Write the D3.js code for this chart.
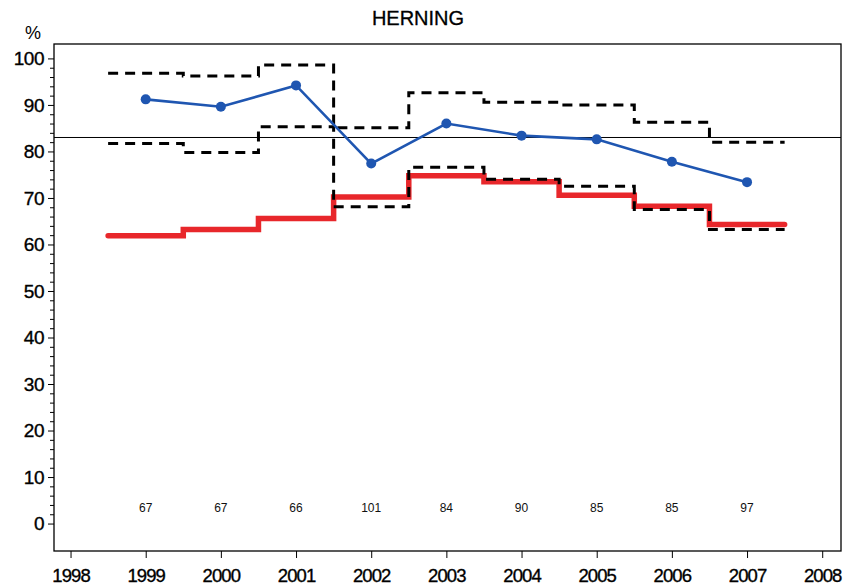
<!DOCTYPE html>
<html>
<head>
<meta charset="utf-8">
<script src="https://cdn.jsdelivr.net/npm/d3@7"></script>
<style>
  html, body { margin: 0; padding: 0; background: #fff; }
  svg { display: block; font-family: "Liberation Sans", Arial, Helvetica, sans-serif; }
</style>
</head>
<body>
<svg id="chart" width="851" height="588"></svg>
<script>
// Yearly indicator results, HERNING
const years = [1999, 2000, 2001, 2002, 2003, 2004, 2005, 2006, 2007];
const observed = [91.2, 89.6, 94.2, 77.4, 86.0, 83.4, 82.6, 77.8, 73.4];
const upperLimit = [96.8, 96.2, 98.6, 85.1, 92.6, 90.6, 90.0, 86.3, 82.0];
const lowerLimit = [81.7, 79.8, 85.3, 68.1, 76.6, 74.0, 72.5, 67.5, 63.2];
const reference = [61.9, 63.2, 65.6, 70.2, 74.8, 73.5, 70.6, 68.2, 64.3];
const counts = [67, 67, 66, 101, 84, 90, 85, 85, 97];
const standard = 83;
const xTicks = [1998, 1999, 2000, 2001, 2002, 2003, 2004, 2005, 2006, 2007, 2008];
const yTicks = [0, 10, 20, 30, 40, 50, 60, 70, 80, 90, 100];

const frame = { left: 54, top: 44, right: 841, bottom: 551 };

const svg = d3.select("#chart");

const x = d3.scaleLinear().domain([1997.78, 2008.25]).range([frame.left, frame.right]);
const y = d3.scaleLinear().domain([-5.9, 103.1]).range([frame.bottom, frame.top]);

// Title and unit label
svg.append("text")
  .attr("x", 418).attr("y", 25)
  .attr("text-anchor", "middle")
  .attr("font-size", 20)
  .attr("stroke", "#000").attr("stroke-width", 0.3)
  .text("HERNING");

svg.append("text")
  .attr("x", 33).attr("y", 39)
  .attr("text-anchor", "middle")
  .attr("font-size", 18)
  .text("%");

// Y axis: minor ticks every 2, labelled major ticks every 10
const minor = d3.range(0, 101, 2).filter(v => v % 10 !== 0);
svg.append("g")
  .attr("transform", `translate(${frame.left},0)`)
  .call(d3.axisLeft(y).tickValues(minor).tickSize(4).tickFormat(""))
  .call(g => g.select(".domain").remove());

svg.append("g")
  .attr("transform", `translate(${frame.left},0)`)
  .call(d3.axisLeft(y).tickValues(yTicks).tickSize(6).tickPadding(4).tickFormat(d3.format("d")))
  .call(g => g.select(".domain").remove())
  .call(g => g.selectAll("text")
    .attr("font-size", 19)
    .attr("font-family", "Liberation Sans, Arial, sans-serif")
    .attr("fill", "#000")
    .attr("stroke", "#000").attr("stroke-width", 0.35)
    .attr("letter-spacing", -0.5));

// X axis
svg.append("g")
  .attr("transform", `translate(0,${frame.bottom})`)
  .call(d3.axisBottom(x).tickValues(xTicks).tickSize(7).tickPadding(11).tickFormat(d3.format("d")))
  .call(g => g.select(".domain").remove())
  .call(g => g.selectAll("text")
    .attr("font-size", 18.5)
    .attr("font-family", "Liberation Sans, Arial, sans-serif")
    .attr("fill", "#000")
    .attr("stroke", "#000").attr("stroke-width", 0.35)
    .attr("letter-spacing", -0.9));

// Plot frame
svg.append("rect")
  .attr("x", frame.left).attr("y", frame.top)
  .attr("width", frame.right - frame.left)
  .attr("height", frame.bottom - frame.top)
  .attr("fill", "none")
  .attr("stroke", "#000")
  .attr("stroke-width", 1.3);

// Standard level
svg.append("line")
  .attr("x1", frame.left).attr("x2", frame.right)
  .attr("y1", y(standard)).attr("y2", y(standard))
  .attr("stroke", "#000")
  .attr("stroke-width", 1);

// Step lines spanning each year from year-0.5 to year+0.5
const stepData = vals => {
  const pts = years.map((yr, i) => [yr - 0.5, vals[i]]);
  pts.push([years[years.length - 1] + 0.5, vals[vals.length - 1]]);
  return pts;
};
const stepLine = d3.line()
  .x(d => x(d[0]))
  .y(d => y(d[1]))
  .curve(d3.curveStepAfter);

svg.append("path")
  .datum(stepData(reference))
  .attr("d", stepLine)
  .attr("fill", "none")
  .attr("stroke", "#e8272b")
  .attr("stroke-width", 5.5)
  .attr("stroke-linecap", "round");

[upperLimit, lowerLimit].forEach(vals => {
  svg.append("path")
    .datum(stepData(vals))
    .attr("d", stepLine)
    .attr("fill", "none")
    .attr("stroke", "#000")
    .attr("stroke-width", 3)
    .attr("stroke-dasharray", "10,7");
});

// Observed percentage per year
const obsLine = d3.line()
  .x((d, i) => x(years[i]))
  .y(d => y(d));

svg.append("path")
  .datum(observed)
  .attr("d", obsLine)
  .attr("fill", "none")
  .attr("stroke", "#1f56b1")
  .attr("stroke-width", 2.6);

svg.append("g")
  .selectAll("circle")
  .data(observed)
  .join("circle")
  .attr("cx", (d, i) => x(years[i]))
  .attr("cy", d => y(d))
  .attr("r", 5)
  .attr("fill", "#1f56b1");

// Number of cases per year
svg.append("g")
  .selectAll("text")
  .data(counts)
  .join("text")
  .attr("x", (d, i) => x(years[i]))
  .attr("y", 512)
  .attr("text-anchor", "middle")
  .attr("font-size", 12)
  .attr("fill", "#111")
  .text(d => d);
</script>
</body>
</html>
